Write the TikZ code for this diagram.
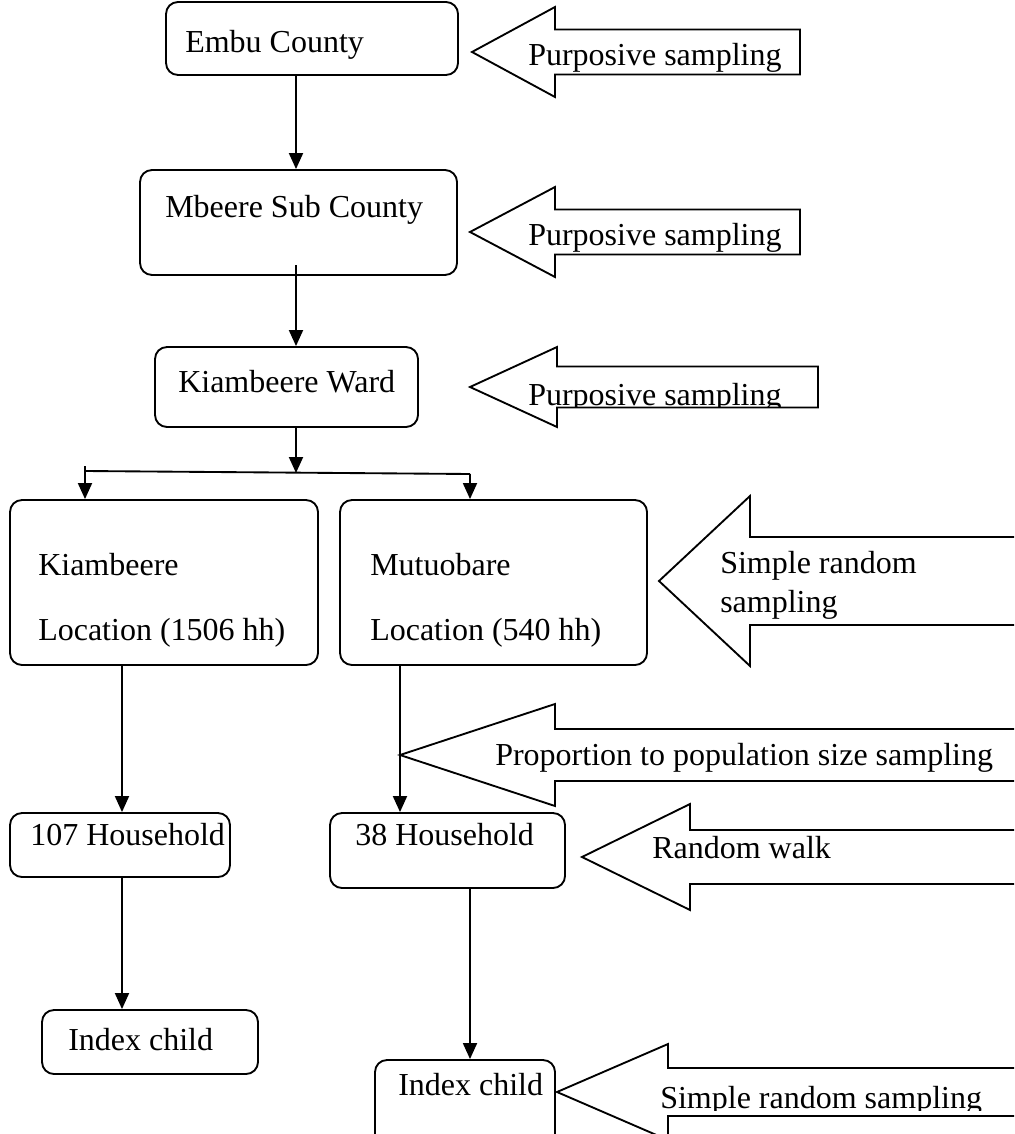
\documentclass[tikz,border=0pt]{standalone}
\usepackage{fontspec}
\setmainfont{Liberation Serif}
\usetikzlibrary{arrows.meta,fit}
\tikzset{
  box/.style={draw, line width=1.4pt, rounded corners=9pt, inner sep=0pt},
  lbl/.style={anchor=base west, inner sep=0pt, font=\fontsize{24}{28}\selectfont},
  ln/.style={line width=1.4pt},
  arr/.style={line width=1.4pt, -{Triangle[width=10.5pt,length=12pt]}},
  blk/.style={draw, line width=1.4pt, fill=white, line join=miter},
}
\newcommand{\mybox}[5]{%
  \path (#2,#3) coordinate (#1-nw) (#4,#5) coordinate (#1-se);
  \node[box, fit=(#1-nw)(#1-se)] (#1) {};}
% tip x, tip y, head back x, head half height, shaft half height, right x
\newcommand{\blockarrow}[6]{%
  \draw[blk] (#1,#2) -- (#3,{#2-#4}) -- (#3,{#2-#5}) -- (#6,{#2-#5})
    -- (#6,{#2+#5}) -- (#3,{#2+#5}) -- (#3,{#2+#4}) -- cycle;}
\begin{document}
\begin{tikzpicture}[x=0.75pt,y=-0.75pt]
\useasboundingbox (0,0) rectangle (1014,1134);
\clip (0,0) rectangle (1014,1134);

% boxes
\mybox{embu}{166}{2}{458}{75}
\mybox{mbeere}{140}{170}{457}{275}
\mybox{ward}{155}{347}{418}{427}
\mybox{kloc}{10}{500}{318}{665}
\mybox{mloc}{340}{500}{647}{665}
\mybox{hA}{10}{813}{230}{877}
\mybox{hB}{330}{813}{565}{888}
\mybox{icA}{42}{1010}{258}{1074}
\mybox{icB}{375}{1060}{555}{1150}

% box texts
\node[lbl] (embuT) at (185,53) {Embu County};
\node[lbl] (mbeereT) at (165,218) {Mbeere Sub County};
\node[lbl] (wardT) at (178,392) {Kiambeere Ward};
\node[lbl] (klocT1) at (38,575) {Kiambeere};
\node[lbl] (klocT2) at (38,640) {Location (1506 hh)};
\node[lbl] (mlocT1) at (370,575) {Mutuobare};
\node[lbl] (mlocT2) at (370,640) {Location (540 hh)};
\node[lbl] (hAT) at (30,845) {107 Household};
\node[lbl] (hBT) at (355,845) {38 Household};
\node[lbl] (icAT) at (68,1050) {Index child};
\node[lbl] (icBT) at (398,1095) {Index child};

% connectors
\coordinate (xC) at (296,0);
\coordinate (xL) at (122,0);
\coordinate (xM) at (400,0);
\coordinate (xR) at (470,0);
\coordinate (sL) at (85,466);
\coordinate (sLh) at (85,471);
\coordinate (sR) at (470,474);
\coordinate (sC) at (296,473);
\coordinate (mbOut) at (296,265);
\draw[arr] (embu.south -| xC) -- (mbeere.north -| xC);
\draw[arr] (mbOut) -- (ward.north -| xC);
\draw[arr] (ward.south -| xC) -- (sC);
\draw[ln] (sLh) -- (sR);
\draw[ln] (sL) -- (sLh);
\draw[arr] (sLh) -- (sL |- kloc.north);
\draw[arr] (sR) -- (sR |- mloc.north);
\draw[arr] (kloc.south -| xL) -- (hA.north -| xL);
\draw[arr] (mloc.south -| xM) -- (hB.north -| xM);
\draw[arr] (hA.south -| xL) -- (icA.north -| xL);
\draw[arr] (hB.south -| xR) -- (icB.north -| xR);

% block arrows
\blockarrow{472}{52}{555}{45}{22.5}{800}
\node[lbl] (pA) at (528,66) {Purposive sampling};

\blockarrow{470}{232}{555}{45}{22.5}{800}
\node[lbl] (pB) at (528,245) {Purposive sampling};

\blockarrow{470}{387}{557}{40}{20.5}{818}
\begin{scope}
  \clip (520,360) rectangle (816,406);
  \node[lbl] (pC) at (528,405) {Purposive sampling};
\end{scope}

\blockarrow{659}{581}{750}{85}{44}{1040}
\begin{scope}
  \clip (700,540) rectangle (1010,618);
  \node[lbl] (srA1) at (720,573) {Simple random};
  \node[lbl] (srA2) at (720,612) {sampling};
\end{scope}

\blockarrow{400}{755}{555}{51}{26}{1040}
\node[lbl] (pps) at (495,765) {Proportion to population size sampling};

\blockarrow{582}{857}{690}{53}{27}{1040}
\node[lbl] (rw) at (652,858) {Random walk};

\blockarrow{557}{1092}{668}{48}{24}{1040}
\begin{scope}
  \clip (600,1060) rectangle (1010,1110);
  \node[lbl] (srB) at (660,1108) {Simple random sampling};
\end{scope}
\end{tikzpicture}
\end{document}
